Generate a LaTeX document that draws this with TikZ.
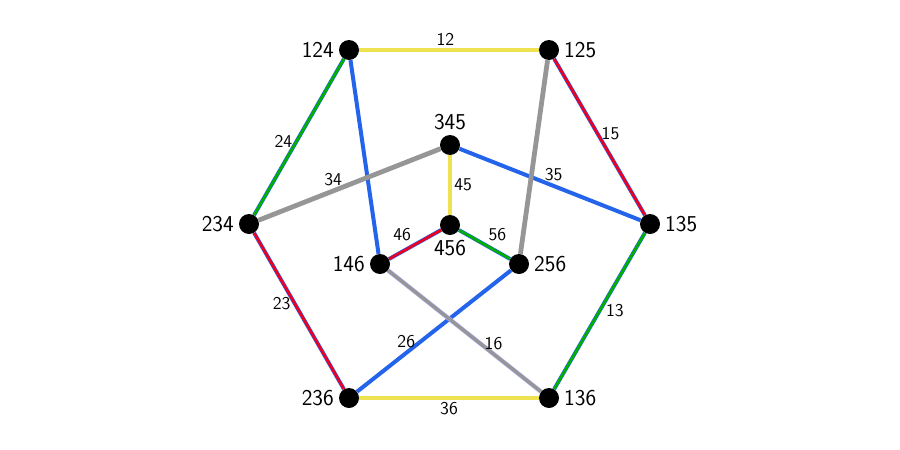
\documentclass[tikz,border=0pt]{standalone}
\usepackage{xcolor}
\usepackage{tikz}
\usetikzlibrary{backgrounds}
\definecolor{edgeblue}{RGB}{35,100,235}
\definecolor{edgered}{RGB}{235,0,35}
\definecolor{edgegreen}{RGB}{0,175,0}
\definecolor{edgeyellow}{RGB}{238,226,80}
\definecolor{edgegray}{RGB}{150,150,150}
\definecolor{edgelilac}{RGB}{175,175,245}

\begin{document}
\begin{tikzpicture}[x=0.75pt, y=-0.75pt,
    vertex/.style={circle, fill=black, inner sep=0pt, minimum size=15pt},
    vlabel/.style={font=\sffamily\fontsize{17}{20}\selectfont, inner sep=2pt},
    elabel/.style={font=\sffamily\fontsize{13.5}{16}\selectfont, inner sep=2pt},
    plain/.style={draw=#1, line width=3pt},
    twotone/.style={draw=#1, line width=2pt, preaction={draw=edgeblue, line width=2.9pt}},
    softtone/.style={draw=#1, line width=2.4pt, preaction={draw=edgelilac, line width=3.3pt}},
    label distance=1.5pt]
    \useasboundingbox (0,0) rectangle (900,450);
    % vertices
    \node[vertex, label={[vlabel]left:124}] (v124) at (349,50) {};
    \node[vertex, label={[vlabel]right:125}] (v125) at (549,50) {};
    \node[vertex, label={[vlabel]above:345}] (v345) at (450,145) {};
    \node[vertex, label={[vlabel]left:234}] (v234) at (249,224) {};
    \node[vertex, label={[vlabel]right:135}] (v135) at (650,224) {};
    \node[vertex, label={[vlabel]below:456}] (v456) at (450,225) {};
    \node[vertex, label={[vlabel]left:146}] (v146) at (380,264) {};
    \node[vertex, label={[vlabel]right:256}] (v256) at (519,264) {};
    \node[vertex, label={[vlabel]left:236}] (v236) at (349,398) {};
    \node[vertex, label={[vlabel]right:136}] (v136) at (549,398) {};
    % edges
    \begin{scope}[on background layer]
    \draw[softtone=edgeyellow] (v124) -- node[elabel, above, pos=0.48] {12} (v125);
    \draw[twotone=edgered] (v125) -- node[elabel, right, pos=0.48] {15} (v135);
    \draw[twotone=edgegreen] (v135) -- node[elabel, right, pos=0.5, xshift=2pt] {13} (v136);
    \draw[softtone=edgeyellow] (v136) -- node[elabel, below] {36} (v236);
    \draw[twotone=edgered] (v236) -- node[elabel, left, pos=0.55] {23} (v234);
    \draw[twotone=edgegreen] (v234) -- node[elabel, left, pos=0.47] {24} (v124);
    \draw[plain=edgeblue] (v124) -- (v146);
    \draw[plain=edgegray, line width=3.6pt] (v234) -- node[elabel, above, pos=0.41] {34} (v345);
    \draw[plain=edgeblue] (v345) -- node[elabel, above, pos=0.52] {35} (v135);
    \draw[softtone=edgeyellow] (v345) -- node[elabel, right] {45} (v456);
    \draw[twotone=edgered] (v456) -- node[elabel, above left] {46} (v146);
    \draw[twotone=edgegreen] (v456) -- node[elabel, above right] {56} (v256);
    \draw[plain=edgegray, line width=3.6pt] (v125) -- (v256);
    \draw[plain=edgeblue] (v256) -- node[elabel, above, pos=0.68] {26} (v236);
    \draw[softtone=edgegray] (v146) -- node[elabel, above, pos=0.69] {16} (v136);
    \end{scope}
\end{tikzpicture}
\end{document}
